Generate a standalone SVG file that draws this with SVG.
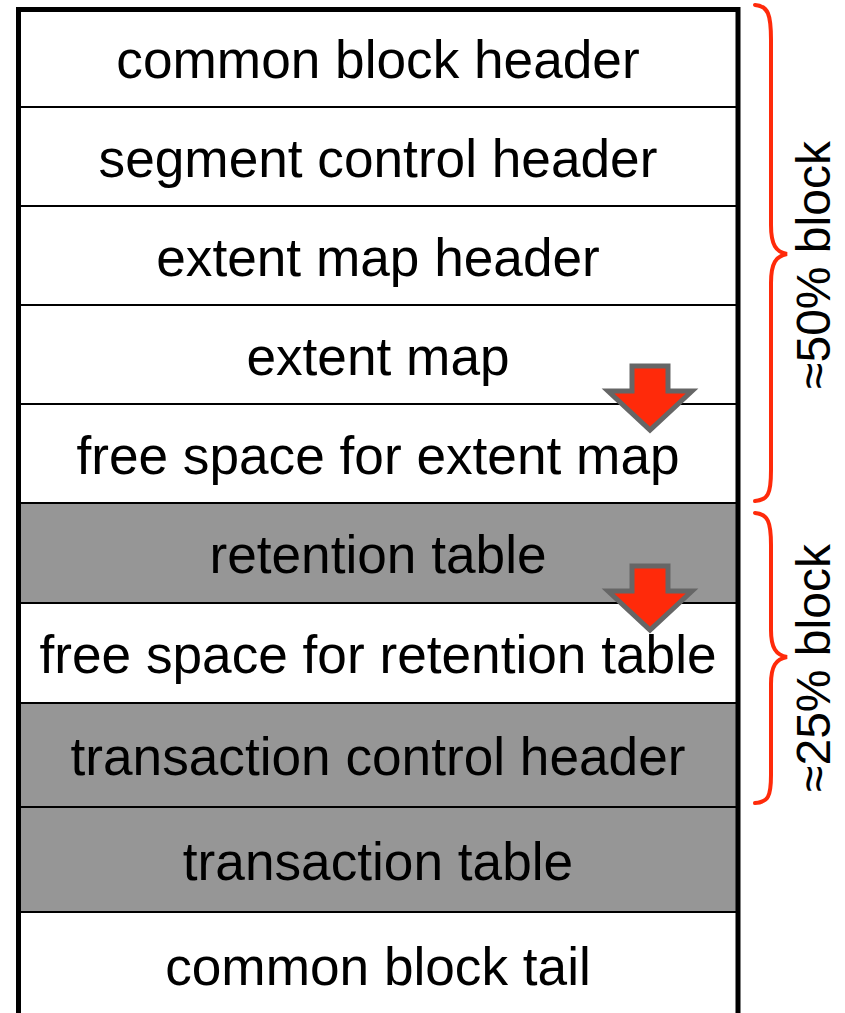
<svg xmlns="http://www.w3.org/2000/svg" width="845" height="1013" viewBox="0 0 845 1013">
<style>
.cell{stroke:#000;stroke-width:2}
.w{fill:#fff}
.g{fill:#969696}
.t{font-family:"Liberation Sans",Arial,sans-serif;font-size:53.2px;fill:#000;text-anchor:middle}
.side{font-family:"Liberation Sans",Arial,sans-serif;font-size:48px;fill:#000;text-anchor:middle}
.arrow{fill:#ff2a0a;stroke:#666;stroke-width:5;stroke-linejoin:miter}
.brace{fill:none;stroke:#ff2a0a;stroke-width:4;stroke-linecap:round}
</style>
<rect width="845" height="1013" fill="#fff"/>
<g id="row1"><rect class="cell w" x="18" y="10" width="720" height="97"/><text class="t" x="378" y="78">common block header</text></g>
<g id="row2"><rect class="cell w" x="18" y="107" width="720" height="99"/><text class="t" x="378" y="177">segment control header</text></g>
<g id="row3"><rect class="cell w" x="18" y="206" width="720" height="99"/><text class="t" x="378" y="276">extent map header</text></g>
<g id="row4"><rect class="cell w" x="18" y="305" width="720" height="99"/><text class="t" x="378" y="375">extent map</text></g>
<g id="row5"><rect class="cell w" x="18" y="404" width="720" height="99"/><text class="t" x="378" y="474">free space for extent map</text></g>
<g id="row6"><rect class="cell g" x="18" y="503" width="720" height="100"/><text class="t" x="378" y="573">retention table</text></g>
<g id="row7"><rect class="cell w" x="18" y="603" width="720" height="100"/><text class="t" x="378" y="673">free space for retention table</text></g>
<g id="row8"><rect class="cell g" x="18" y="703" width="720" height="104"/><text class="t" x="378" y="775">transaction control header</text></g>
<g id="row9"><rect class="cell g" x="18" y="807" width="720" height="105"/><text class="t" x="378" y="880">transaction table</text></g>
<g id="row10"><rect class="cell w" x="18" y="912" width="720" height="110"/><text class="t" x="378" y="985">common block tail</text></g>
<g id="frame" fill="none" stroke="#000" stroke-width="5">
<path d="M18.5 1013 V9.5 H738 V1013"/>
</g>
<g id="arrow1"><polygon class="arrow" points="632,366 668,366 668,391 692,391 650,430 608,391 632,391"/></g>
<g id="arrow2"><polygon class="arrow" points="632,566 668,566 668,591 692,591 650,630 608,591 632,591"/></g>
<g id="brace1">
<path class="brace" d="M755 5 C768 6 771 14 771 40 V225 C771 245 776 252 787 254 C776 256 771 263 771 283 V470 C771 494 768 500 755 501"/>
<text class="side" transform="translate(830 265) rotate(-90)">≈50% block</text>
</g>
<g id="brace2">
<path class="brace" d="M755 513 C768 514 771 522 771 545 V630 C771 648 776 655 787 657 C776 659 771 666 771 684 V775 C771 797 768 802 755 803"/>
<text class="side" transform="translate(830 668) rotate(-90)">≈25% block</text>
</g>
</svg>
